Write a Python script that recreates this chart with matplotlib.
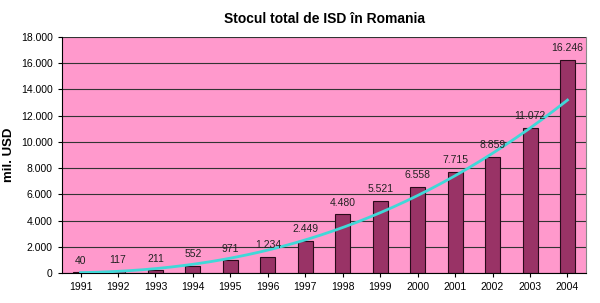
import numpy as np
import matplotlib.pyplot as plt
from matplotlib.ticker import FuncFormatter

years = ['1991', '1992', '1993', '1994', '1995', '1996', '1997',
         '1998', '1999', '2000', '2001', '2002', '2003', '2004']
stock = [40, 117, 211, 552, 971, 1234, 2449, 4480, 5521, 6558, 7715, 8859, 11072, 16246]


def dotfmt(v, pos=None):
    return '{:,.0f}'.format(v).replace(',', '.')


fig = plt.figure(figsize=(6, 3.03), dpi=100)
ax = fig.add_axes([0.103, 0.099, 0.874, 0.779])
ax.set_facecolor('#FF99CC')

x = np.arange(len(years))
ax.bar(x, stock, width=0.4, color='#993366', edgecolor='#2a0a1a', linewidth=0.8, zorder=2)

# power trend line (fit in log space, like excel)
n = x + 1
b, loga = np.polyfit(np.log(n), np.log(stock), 1)
ns = np.linspace(1, len(years), 200)
ax.plot(ns - 1, np.exp(loga) * ns ** b, color='#40D8D8', linewidth=2, zorder=3)

for xi, v in zip(x, stock):
    ax.text(xi, v + 500, dotfmt(v), ha='center', va='bottom', fontsize=7.5,
            family='Liberation Sans', color='#222222', zorder=4)

ax.set_xlim(-0.5, len(years) - 0.5)
ax.set_ylim(0, 18000)
ax.set_yticks(np.arange(0, 18001, 2000))
ax.yaxis.set_major_formatter(FuncFormatter(dotfmt))
ax.set_xticks(x)
ax.set_xticklabels(years)
ax.grid(axis='y', color='#333333', linewidth=0.8, zorder=1)
ax.set_axisbelow(True)
for lbl in ax.get_xticklabels() + ax.get_yticklabels():
    lbl.set_fontsize(7.5)
    lbl.set_family('Liberation Sans')
ax.tick_params(length=3, width=0.8)
ax.spines['top'].set_visible(False)
ax.spines['right'].set_color('#888888')

ax.set_ylabel('mil. USD', fontsize=9.5, fontweight='bold', family='Liberation Sans')
ax.set_title('Stocul total de ISD în Romania', fontsize=10, fontweight='bold',
             family='Liberation Sans', pad=10)

fig.savefig('out.png')
